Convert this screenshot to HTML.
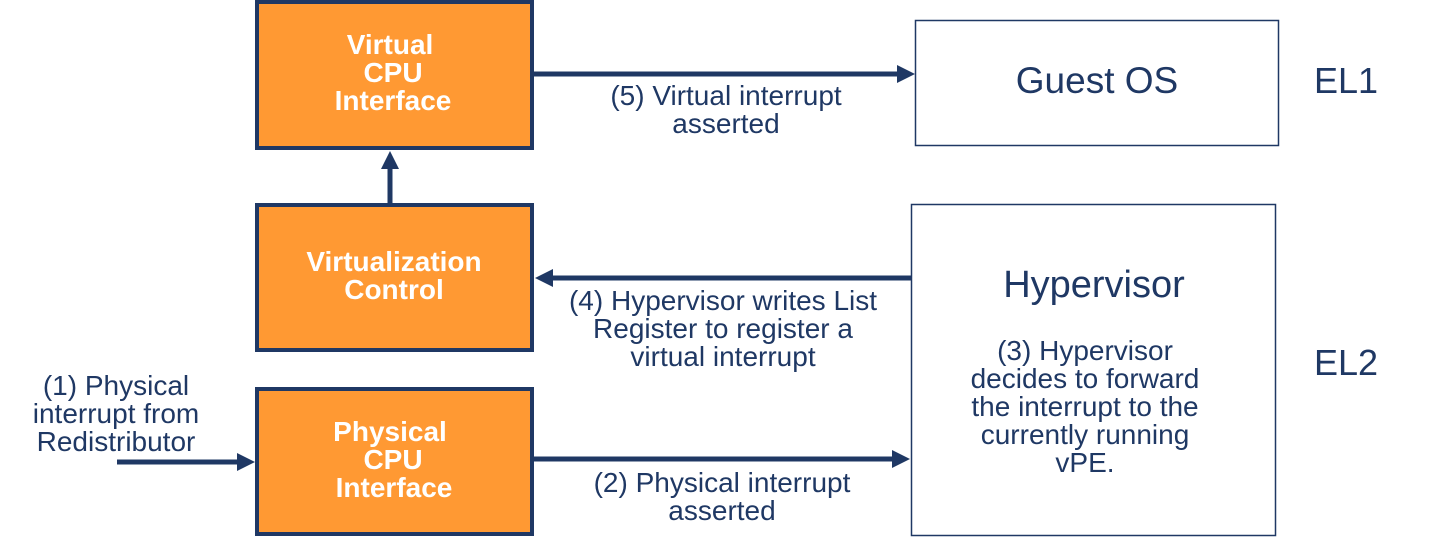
<!DOCTYPE html>
<html><head><meta charset="utf-8"><style>
html,body{margin:0;padding:0;background:#fff;width:1444px;height:545px;overflow:hidden}
svg text{font-family:"Liberation Sans",sans-serif;fill:#1F3864}
.w{fill:#fff;font-weight:bold;font-size:28px}
.n{font-size:28px}
</style></head><body>
<svg width="1444" height="545" viewBox="0 0 1444 545" xmlns="http://www.w3.org/2000/svg">
<defs><marker id="a" markerWidth="3.6" markerHeight="3.6" refX="0.2" refY="1.8" orient="auto" markerUnits="strokeWidth"><path d="M0,0 L3.6,1.8 L0,3.6 z" fill="#1F3864"/></marker></defs>
<g fill="#FF9933" stroke="#1F3864" stroke-width="4">
<rect x="257" y="2" width="275" height="146"/>
<rect x="257" y="205" width="275" height="145"/>
<rect x="257" y="389" width="275" height="145"/>
</g>
<rect x="915.5" y="20.5" width="363" height="125" fill="#fff" stroke="#1F3864" stroke-width="1.5"/>
<rect x="911.5" y="204.5" width="364" height="331" fill="#fff" stroke="#1F3864" stroke-width="1.5"/>
<g stroke="#1F3864" stroke-width="5" fill="none">
<line x1="534" y1="74" x2="898" y2="74" marker-end="url(#a)"/>
<line x1="390" y1="204" x2="390" y2="168" marker-end="url(#a)"/>
<line x1="911" y1="278" x2="552" y2="278" marker-end="url(#a)"/>
<line x1="534" y1="459" x2="893" y2="459" marker-end="url(#a)"/>
<line x1="117" y1="462" x2="238" y2="462" marker-end="url(#a)"/>
</g>
<g text-anchor="middle">
<text class="w" x="390" y="54">Virtual</text>
<text class="w" x="393" y="82">CPU</text>
<text class="w" x="393" y="110">Interface</text>
<text class="w" x="394" y="271">Virtualization</text>
<text class="w" x="394" y="299">Control</text>
<text class="w" x="390" y="441">Physical</text>
<text class="w" x="393" y="469">CPU</text>
<text class="w" x="394" y="497">Interface</text>
<text class="n" x="726" y="105">(5) Virtual interrupt</text>
<text class="n" x="726" y="133">asserted</text>
<text class="n" x="723" y="310">(4) Hypervisor writes List</text>
<text class="n" x="723" y="338">Register to register a</text>
<text class="n" x="723" y="366">virtual interrupt</text>
<text class="n" x="722" y="492">(2) Physical interrupt</text>
<text class="n" x="722" y="520">asserted</text>
<text class="n" x="116" y="395">(1) Physical</text>
<text class="n" x="116" y="423">interrupt from</text>
<text class="n" x="116" y="451">Redistributor</text>
<text x="1097" y="93" style="font-size:37px">Guest OS</text>
<text x="1094" y="297" style="font-size:38px">Hypervisor</text>
<text class="n" x="1085" y="360">(3) Hypervisor</text>
<text class="n" x="1085" y="388">decides to forward</text>
<text class="n" x="1085" y="416">the interrupt to the</text>
<text class="n" x="1085" y="444">currently running</text>
<text class="n" x="1085" y="472">vPE.</text>
<text x="1346" y="93" style="font-size:36px">EL1</text>
<text x="1346" y="375" style="font-size:36px">EL2</text>
</g>
</svg>
</body></html>
